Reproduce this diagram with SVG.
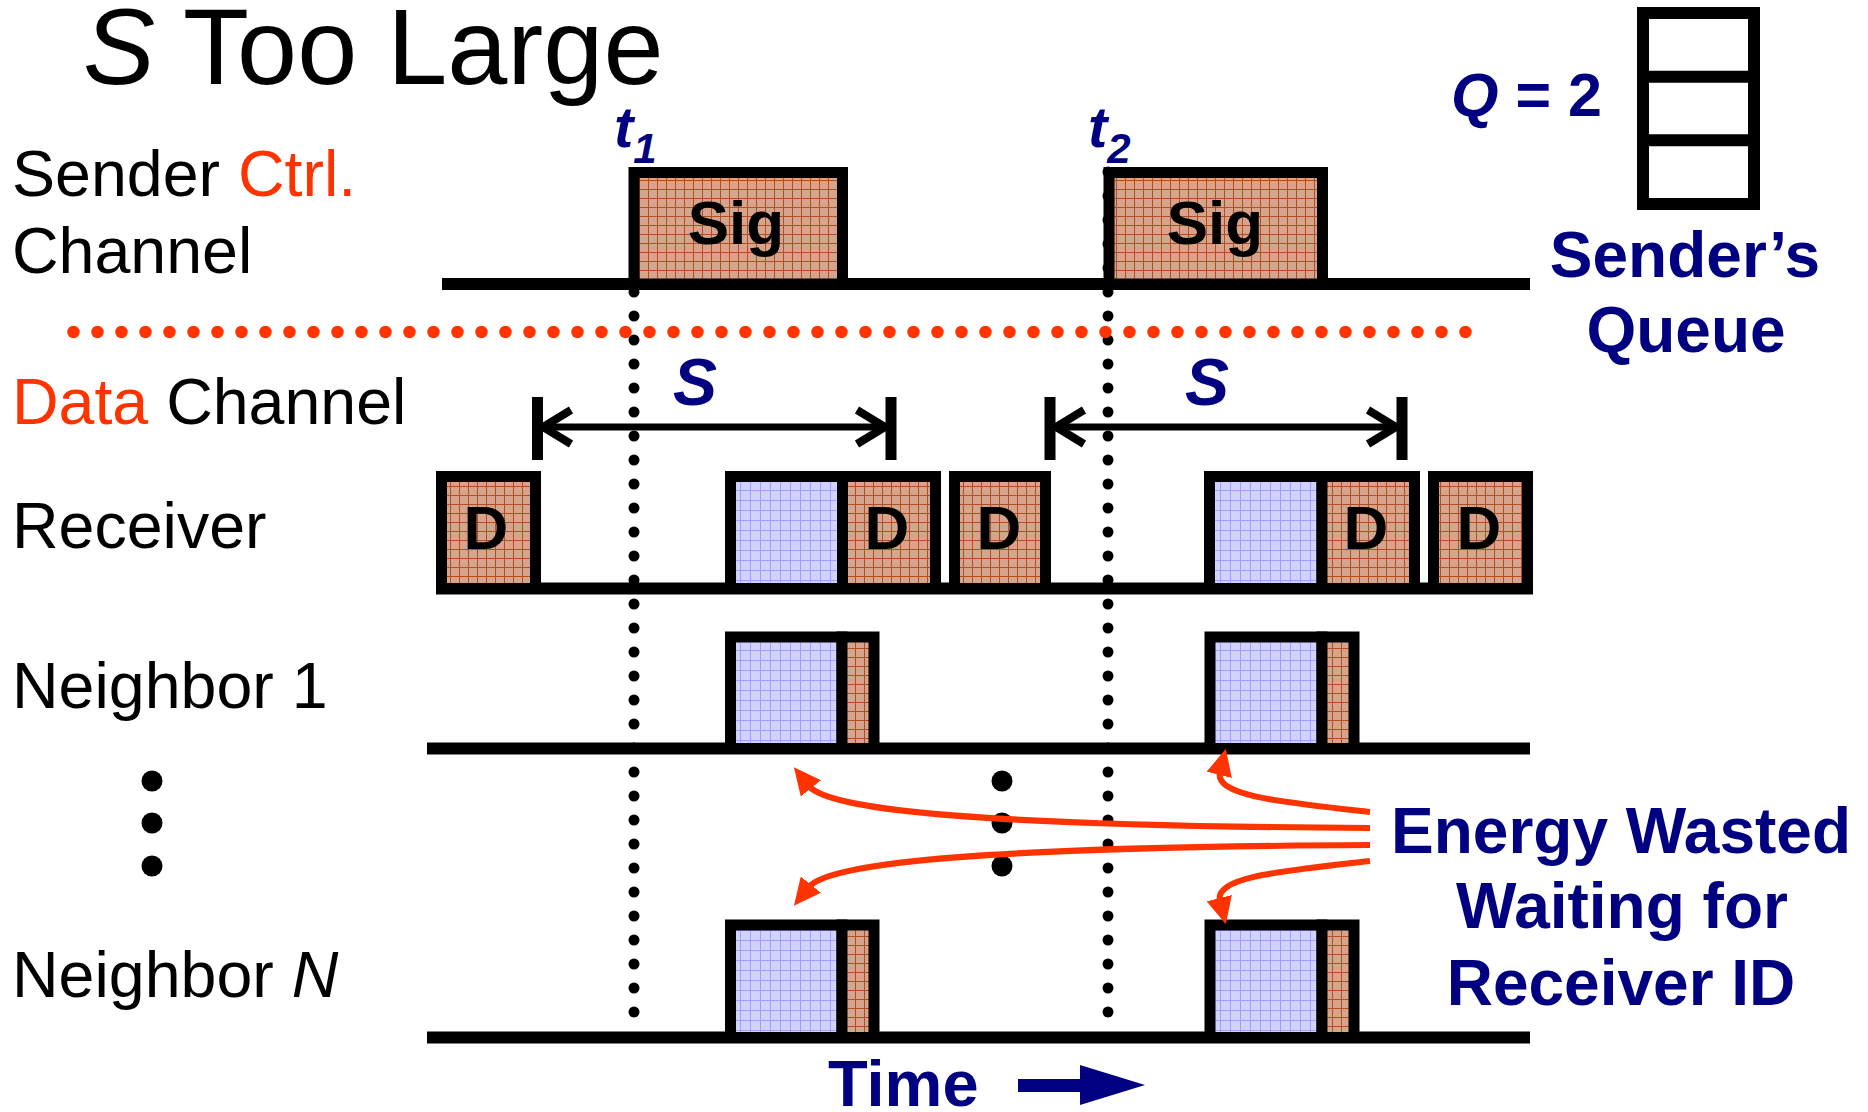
<svg xmlns="http://www.w3.org/2000/svg" width="1868" height="1112" viewBox="0 0 1868 1112">
<defs>
<pattern id="brown" width="9" height="9" patternUnits="userSpaceOnUse">
<rect width="9" height="9" fill="#D6A38D"/>
<path d="M0,0.5H9M0.5,0V9" stroke="#B24E22" stroke-width="1"/>
</pattern>
<pattern id="blue" width="10" height="10" patternUnits="userSpaceOnUse">
<rect width="10" height="10" fill="#D2D2FF"/>
<path d="M0,0.5H10M0.5,0V10" stroke="#A0A0FF" stroke-width="1"/>
</pattern>
<marker id="redhead" markerUnits="userSpaceOnUse" markerWidth="27" markerHeight="26" viewBox="0 0 27 26" refX="3" refY="13" orient="auto">
<path d="M0,0 L27,13 L0,26 z" fill="#FF3300"/>
</marker>
</defs>
<style>
.t{font-family:"Liberation Sans",Arial,Helvetica,sans-serif}
.lbl{font-size:64.5px;fill:#000}
.red{fill:#FF3300}
.navy{fill:#000080;font-weight:bold}
.b{font-weight:bold}
.ch{stroke:#000;stroke-width:12;fill:none}
.box{stroke:#000;stroke-width:11}
.br{fill:url(#brown)}
.bl{fill:url(#blue)}
.dots{stroke:#000;stroke-width:11;stroke-linecap:round;stroke-dasharray:0 24;fill:none}
.rdots{stroke:#FF3300;stroke-width:12.5;stroke-linecap:round;stroke-dasharray:0 24;fill:none}
.arr{stroke:#FF3300;stroke-width:6;fill:none;marker-end:url(#redhead)}
.dim{stroke:#000;fill:none}
</style>
<rect width="1868" height="1112" fill="#fff"/>

<g id="title">
<text class="t" x="83" y="84" font-size="108"><tspan font-style="italic">S</tspan> Too Large</text>
</g>

<g id="labels">
<text class="t lbl" x="12" y="196">Sender <tspan class="red">Ctrl.</tspan></text>
<text class="t lbl" x="12" y="273">Channel</text>
<text class="t lbl" x="12" y="424"><tspan class="red">Data</tspan> Channel</text>
<text class="t lbl" x="12" y="548">Receiver</text>
<text class="t lbl" x="12" y="708">Neighbor 1</text>
<text class="t lbl" x="12" y="997">Neighbor <tspan font-style="italic">N</tspan></text>
</g>

<g id="channel-lines">
<path class="ch" d="M442,284H1530"/>
<path class="ch" d="M436,588.5H1533"/>
<path class="ch" d="M427,748.5H1530"/>
<path class="ch" d="M427,1037.5H1530"/>
</g>

<g id="sig1">
<rect class="box br" x="634" y="172.5" width="208.5" height="111.5"/>
<text class="t b" x="736" y="244" font-size="62" text-anchor="middle">Sig</text>
</g>
<g id="sig2">
<rect class="box br" x="1109" y="172.5" width="213.5" height="111.5"/>
<text class="t b" x="1215" y="244" font-size="62" text-anchor="middle">Sig</text>
</g>

<g id="receiver-boxes">
<rect class="box br" x="441.5" y="476.5" width="94" height="112"/>
<text class="t b" x="486" y="549" font-size="62" text-anchor="middle">D</text>
<rect class="box bl" x="730.5" y="476.5" width="112" height="112"/>
<rect class="box br" x="842.5" y="476.5" width="93" height="112"/>
<text class="t b" x="887" y="549" font-size="62" text-anchor="middle">D</text>
<rect class="box br" x="954.5" y="476.5" width="91" height="112"/>
<text class="t b" x="999" y="549" font-size="62" text-anchor="middle">D</text>
<rect class="box bl" x="1209.5" y="476.5" width="112.5" height="112"/>
<rect class="box br" x="1322" y="476.5" width="92.5" height="112"/>
<text class="t b" x="1366" y="549" font-size="62" text-anchor="middle">D</text>
<rect class="box br" x="1433.5" y="476.5" width="94" height="112"/>
<text class="t b" x="1479" y="549" font-size="62" text-anchor="middle">D</text>
</g>

<g id="neighbor1-boxes">
<rect class="box bl" x="730.5" y="637" width="111.5" height="111.5"/>
<rect class="box br" x="842" y="637" width="32" height="111.5"/>
<rect class="box bl" x="1210" y="637" width="112" height="111.5"/>
<rect class="box br" x="1322" y="637" width="32" height="111.5"/>
</g>

<g id="neighborN-boxes">
<rect class="box bl" x="730.5" y="925" width="111.5" height="112.5"/>
<rect class="box br" x="842" y="925" width="32" height="112.5"/>
<rect class="box bl" x="1210" y="925" width="112" height="112.5"/>
<rect class="box br" x="1322" y="925" width="32" height="112.5"/>
</g>

<g id="markers">
<path class="dots" d="M634,292V1013"/>
<path class="dots" d="M1108,172V1013"/>
<path class="rdots" d="M73.5,332H1466"/>
<circle cx="152" cy="781" r="10.5"/>
<circle cx="152" cy="823" r="10.5"/>
<circle cx="152" cy="866" r="10.5"/>
<circle cx="1002" cy="781" r="10.5"/>
<circle cx="1002" cy="823" r="10.5"/>
<circle cx="1002" cy="866" r="10.5"/>
</g>

<g id="time-labels">
<text class="t navy" x="614" y="147" font-size="58" font-style="italic">t<tspan font-size="42" dy="16">1</tspan></text>
<text class="t navy" x="1088" y="147" font-size="58" font-style="italic">t<tspan font-size="42" dy="16">2</tspan></text>
</g>

<g id="s-dimensions">
<path class="dim" stroke-width="7" d="M537.5,427H891M1050,427H1402"/>
<path class="dim" stroke-width="11" d="M537.5,397V460M891,397V460M1050,397V460M1402,397V460"/>
<path class="dim" stroke-width="8" d="M571,410L543,427L571,444M857,410L885,427L857,444M1084,410L1056,427L1084,444M1368,410L1396,427L1368,444"/>
<text class="t navy" x="695" y="405" font-size="66" font-style="italic" text-anchor="middle">S</text>
<text class="t navy" x="1207" y="405" font-size="66" font-style="italic" text-anchor="middle">S</text>
</g>

<g id="queue">
<text class="t navy" x="1451" y="116" font-size="61"><tspan font-style="italic">Q</tspan> = 2</text>
<rect x="1643" y="13" width="111" height="191" fill="#fff" stroke="#000" stroke-width="12"/>
<path d="M1643,76.7H1754M1643,140.3H1754" stroke="#000" stroke-width="12"/>
<text class="t navy" x="1685" y="277" font-size="64" text-anchor="middle">Sender’s</text>
<text class="t navy" x="1686" y="352" font-size="64" text-anchor="middle">Queue</text>
</g>

<g id="connectors">
<path class="arr" d="M1370,812 C1280,802 1214,796 1220,772"/>
<path class="arr" d="M1370,828 C1000,826 830,812 809,786"/>
<path class="arr" d="M1370,845 C1000,847 830,861 809,887"/>
<path class="arr" d="M1370,861 C1280,871 1214,877 1220,901"/>
</g>

<g id="energy-label">
<text class="t navy" font-size="64" text-anchor="middle"><tspan x="1621" y="853">Energy Wasted</tspan><tspan x="1622" y="928">Waiting for</tspan><tspan x="1621" y="1005">Receiver ID</tspan></text>
</g>

<g id="time-axis">
<text class="t navy" x="828" y="1106" font-size="65">Time</text>
<path d="M1018,1079H1080V1065L1145,1085L1080,1105V1092H1018z" fill="#000080"/>
</g>
</svg>
